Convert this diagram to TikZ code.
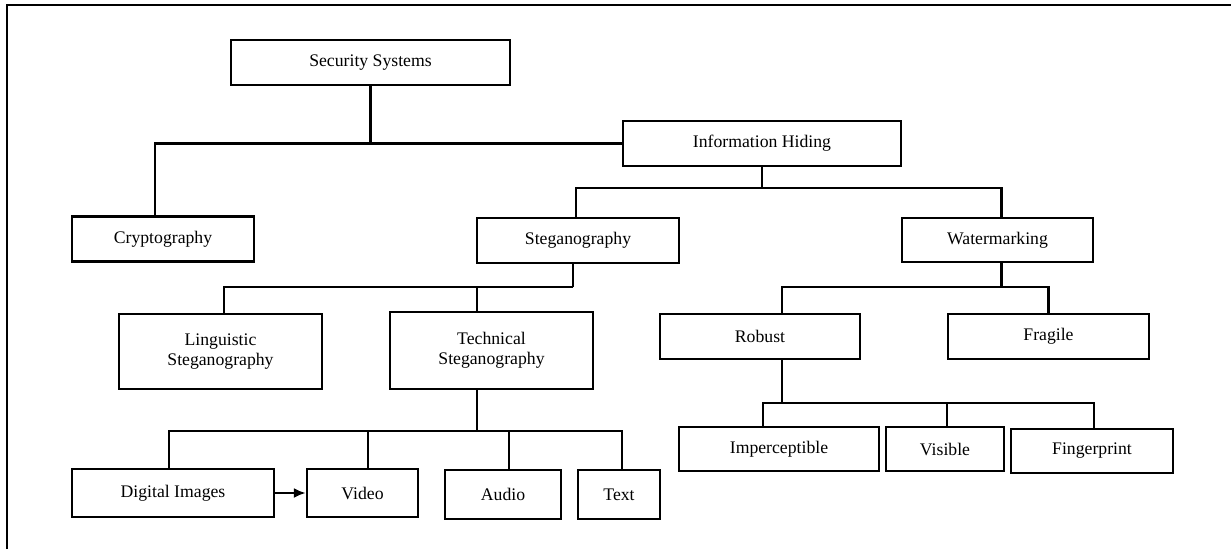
\documentclass[tikz,border=0pt]{standalone}
\usepackage{fontspec}
\setmainfont{Liberation Serif}
\usetikzlibrary{positioning,arrows.meta}

\begin{document}
\begin{tikzpicture}[x=1pt,y=-1pt,>={Latex[length=12pt,width=10pt]},
         box/.style={rectangle,draw,line width=2.4pt,inner sep=2pt,align=center,
                     font=\fontsize{17.7}{20}\selectfont},
         link/.style={line width=2.2pt}]

     \useasboundingbox (0,0) rectangle (1231,549);
     \draw[line width=1.8pt] (7,549) -- (7,5) -- (1231,5);

     \node[box,minimum width=279pt,minimum height=45pt] (sec)     at (370.5,62.5) {Security Systems};
     \node[box,minimum width=278pt,minimum height=45pt] (info)    at (762,143.5)  {Information Hiding};
     \node[box,minimum width=182pt,minimum height=45pt] (crypto)  at (163,239)    {Cryptography};
     \node[box,minimum width=202pt,minimum height=45pt] (steg)    at (578,240.5)  {Steganography};
     \node[box,minimum width=191pt,minimum height=44pt] (water)   at (997.5,240)  {Watermarking};
     \node[box,minimum width=203pt,minimum height=75pt] (ling)    at (220.5,351.5) {Linguistic\\Steganography};
     \node[box,minimum width=203pt,minimum height=77pt] (tech)    at (491.5,350.5) {Technical\\Steganography};
     \node[box,minimum width=200pt,minimum height=45pt] (robust)  at (760,336.5)  {Robust};
     \node[box,minimum width=201pt,minimum height=45pt] (fragile) at (1048.5,336.5) {Fragile};
     \node[box,minimum width=200pt,minimum height=44pt] (imp)     at (779,449)    {Imperceptible};
     \node[box,minimum width=118pt,minimum height=44pt] (vis)     at (945,449)    {Visible};
     \node[box,minimum width=162pt,minimum height=44pt] (finger)  at (1092,451)   {Fingerprint};
     \node[box,minimum width=202pt,minimum height=48pt] (digital) at (173,493)    {Digital Images};
     \node[box,minimum width=111pt,minimum height=48pt] (video)   at (362.5,493)  {Video};
     \node[box,minimum width=116pt,minimum height=49pt] (audio)   at (503,494.5)  {Audio};
     \node[box,minimum width=82pt,minimum height=49pt]  (text)    at (619,494.5)  {Text};

     \draw[link] (sec.south) |- (info.west);
     \draw[link] (sec.south |- info.west) -| ([xshift=-8pt]crypto.north);

     \draw[link] (info.south) -- ++(0,21) coordinate (ih);
     \draw[link] (ih) -| ([xshift=-2pt]steg.north);
     \draw[link] (ih) -| ([xshift=4pt]water.north);

     \draw[link] ([xshift=-5pt]steg.south) -- ++(0,23) coordinate (sg);
     \draw[link] (sg) -| ([xshift=3.5pt]ling.north);
     \draw[link] (sg) -| ([xshift=-14.5pt]tech.north);

     \draw[link] ([xshift=-14.5pt]tech.south) -- ++(0,41) coordinate (tc);
     \draw[link] (tc) -| ([xshift=-4pt]digital.north);
     \draw[link] (tc) -| ([xshift=5.5pt]video.north);
     \draw[link] (tc) -| ([xshift=6pt]audio.north);
     \draw[link] (tc) -| ([xshift=3pt]text.north);

     \draw[link] ([xshift=4pt]water.south) -- ++(0,24) coordinate (wm);
     \draw[link] (wm) -| ([xshift=22pt]robust.north);
     \draw[link] (wm) -| (fragile.north);

     \draw[link] ([xshift=22pt]robust.south) -- ++(0,43) coordinate (rb);
     \draw[link] (rb) -| ([xshift=-16pt]imp.north);
     \draw[link] (rb) -| ([xshift=2pt]vis.north);
     \draw[link] (rb) -| ([xshift=2pt]finger.north);

     \draw[link,->] (digital) -- (video);
 \end{tikzpicture}
\end{document}
